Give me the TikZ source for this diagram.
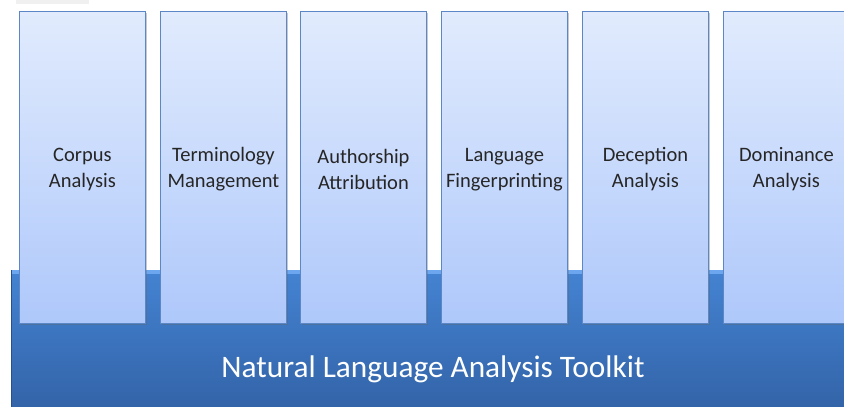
\documentclass[tikz,border=0pt]{standalone}
\usepackage{fontspec}
\setmainfont{Carlito}
\usetikzlibrary{shadows}
\definecolor{boxtop}{HTML}{E1EBFD}
\definecolor{boxbot}{HTML}{AEC8FB}
\definecolor{boxline}{HTML}{5C87C6}
\definecolor{basetop}{HTML}{4483D2}
\definecolor{basebot}{HTML}{3262A6}
\definecolor{baselight}{HTML}{6CA6EE}
\definecolor{baseedge}{HTML}{28508C}
\definecolor{txt}{HTML}{262626}
\tikzset{
  col/.style={draw=boxline, line width=0.9pt, top color=boxtop, bottom color=boxbot,
    minimum width=126pt, minimum height=312pt, anchor=north west, inner sep=0pt,
    drop shadow={shadow xshift=1.2pt, shadow yshift=-1.5pt, opacity=0.35, fill=black!60}},
  coltext/.style={align=center, text=txt, font=\fontsize{20.5}{26}\selectfont, inner sep=0pt},
  basebar/.style={top color=basetop, bottom color=basebot, draw=none,
    minimum width=840pt, minimum height=145pt, anchor=north west, inner sep=0pt}
}
\begin{document}
\begin{tikzpicture}[x=1pt,y=-1pt]
\useasboundingbox (0,0) rectangle (844,407);
\clip (0,0) rectangle (844,407);
\fill[white] (0,0) rectangle (844,407);
\fill[black!6] (16,0) rectangle (89,4);
\node[basebar] (base) at (11,270) {};
\fill[baselight] (11,270) rectangle (851,274);
\draw[baseedge, line width=0.8pt] (11.4,270) -- (11.4,407);
\node[white, font=\fontsize{31.3}{36}\selectfont] (title) at (433,369) {Natural Language Analysis Toolkit};
\foreach \x/\n/\t in {19/c1/{Corpus\\Analysis}, 160/c2/{Terminology\\Management},
  300/c3/{Authorship\\Attribution}, 441/c4/{Language\\Fingerprinting},
  582/c5/{Deception\\Analysis}, 723/c6/{Dominance\\Analysis}}{
  \node[col] (\n) at (\x,11) {};
  \node[coltext] (\n t) at ([yshift=-2pt]\n.center) {\t};
}
\end{tikzpicture}
\end{document}
